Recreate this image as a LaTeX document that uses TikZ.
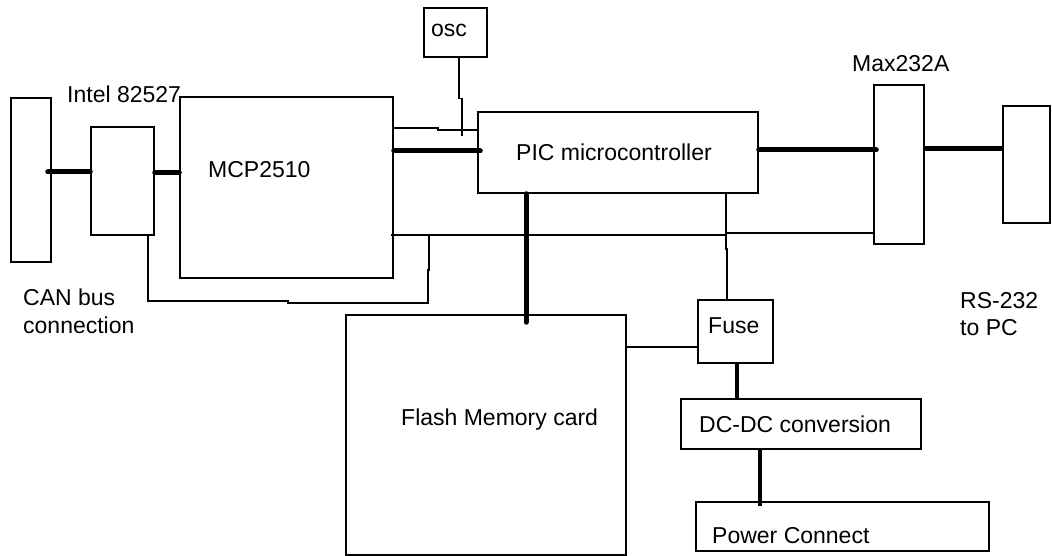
\documentclass[tikz,border=0pt]{standalone}
\usepackage{fontspec}
\setmainfont{Liberation Sans}
\usetikzlibrary{calc}
\begin{document}
\begin{tikzpicture}[x=1pt,y=-1pt,
  box/.style={draw=black,line width=1.5pt,inner sep=0pt,rectangle},
  lbl/.style={anchor=base west,inner sep=0pt,font=\fontsize{23}{27}\selectfont},
  wire/.style={draw=black,line width=1.5pt},
  bus/.style={draw=black,line width=5pt,line cap=round},
  pbus/.style={draw=black,line width=3.3pt}]
\useasboundingbox (0,0) rectangle (1052,556);
% boxes
\node[box,minimum width=40pt,minimum height=164pt] (can) at (31,180) {};
\node[box,minimum width=63pt,minimum height=108pt] (intel) at (122.5,181) {};
\node[box,minimum width=213pt,minimum height=181pt] (mcp) at (286.5,187.5) {};
\node[box,minimum width=63pt,minimum height=49pt] (osc) at (455.5,32.5) {};
\node[box,minimum width=280pt,minimum height=81pt] (pic) at (618,152.5) {};
\node[box,minimum width=50pt,minimum height=159pt] (max) at (899,164.5) {};
\node[box,minimum width=47pt,minimum height=117pt] (rs) at (1026.5,164.5) {};
\node[box,minimum width=280pt,minimum height=240pt] (flash) at (486,435) {};
\node[box,minimum width=75pt,minimum height=63pt] (fuse) at (735.5,331.5) {};
\node[box,minimum width=240pt,minimum height=50pt] (dcdc) at (801,424) {};
\node[box,minimum width=293pt,minimum height=49pt] (power) at (842.5,526.5) {};
% labels
\node[lbl] (tintel) at (67,103) {Intel 82527};
\node[lbl] (tmcp) at (208,178) {MCP2510};
\node[lbl] (tosc) at (431,37) {osc};
\node[lbl] (tpic) at (516,161) {PIC microcontroller};
\node[lbl] (tmax) at (852,72) {Max232A};
\node[lbl] (tcan1) at (23,305) {CAN bus};
\node[lbl] (tcan2) at (23,333) {connection};
\node[lbl] (trs1) at (960,308) {RS-232};
\node[lbl] (trs2) at (960,335) {to PC};
\node[lbl] (tfuse) at (708,333) {Fuse};
\node[lbl] (tflash) at (401,425) {Flash Memory card};
\node[lbl] (tdc) at (699,432) {DC-DC conversion};
\node[lbl] (tpow) at (712,543) {Power Connect};
% thick buses
\draw[bus] ([xshift=-4pt,yshift=8pt]can.east) -- ([yshift=9pt]intel.west);
\draw[bus] ([yshift=8pt]intel.east) -- ([yshift=14.5pt]mcp.west);
\draw[bus] ([yshift=36.5pt]mcp.east) -- ([xshift=3pt,yshift=1.5pt]pic.west);
\draw[bus] ([yshift=2.5pt]pic.east) -- ([xshift=3pt,yshift=14.5pt]max.west);
\draw[bus,line cap=butt] ([yshift=15.5pt]max.east) -- ([yshift=15.5pt]rs.west);
\draw[bus] ([xshift=-92pt]pic.south) -- ([xshift=40pt,yshift=-8pt]flash.north);
\draw[pbus] ([xshift=1.5pt]fuse.south) -- ([xshift=-64pt]dcdc.north);
\draw[pbus] ([xshift=-41pt]dcdc.south) -- ([xshift=-82.5pt,yshift=-5pt]power.north);
% thin wires
\coordinate (oscend) at ([xshift=-16pt,yshift=17.5pt]pic.west);
\draw[wire] ([xshift=3.5pt]osc.south) -- ++(0,41) -- ++(3,0) |- (oscend);
\draw[wire] ([yshift=59.5pt]mcp.east) -- ++(44,0) -- ++(0,2) -- ([yshift=22.5pt]pic.west);
\coordinate (tap) at (429,235);
\draw[wire] ([xshift=-3pt,yshift=-47.5pt]mcp.east) -- (726,235) -- (726,233) -- ([yshift=-68.5pt]max.west);
\draw[wire] ([xshift=108pt]pic.south) -- ++(0,55) -- ++(1,0) -- ([xshift=-8.5pt]fuse.north);
\draw[wire] ([xshift=25.5pt]intel.south) -- ++(0,65) -- ++(140,0) -- ++(0,2) -- ++(140,0) -- ++(0,-33) -- ++(1,0) -- (tap);
\draw[wire] ([yshift=88pt]flash.east) -- ([yshift=-15.5pt]fuse.west);
\end{tikzpicture}
\end{document}
